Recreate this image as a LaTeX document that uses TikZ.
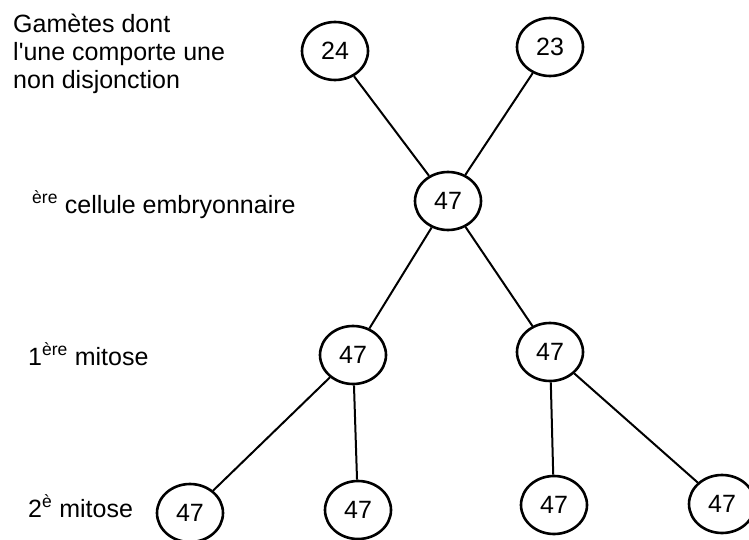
\documentclass[tikz,border=0pt]{standalone}
\usepackage{fontspec}
\setmainfont{Liberation Sans}
\usetikzlibrary{shapes.geometric}
\begin{document}
\begin{tikzpicture}[x=1pt,y=-1pt,
  cell/.style={ellipse,draw,line width=2.6pt,minimum width=66pt,minimum height=58pt,inner sep=0pt,font=\fontsize{25}{28}\selectfont},
  link/.style={line width=2pt},
  lab/.style={inner sep=0pt,font=\fontsize{25}{28}\selectfont}]
\useasboundingbox (0,0) rectangle (749,540);
% cells
\node[cell] (g24) at (335,51) {24};
\node[cell] (g23) at (550,47) {23};
\node[cell] (z)   at (448,201) {47};
\node[cell] (m1)  at (353,355) {47};
\node[cell] (m2)  at (550,352) {47};
\node[cell] (b1)  at (190,513) {47};
\node[cell] (b2)  at (358,510) {47};
\node[cell] (b3)  at (554,505) {47};
\node[cell] (b4)  at (722,504) {47};
% links
\draw[link] (g24) -- (z);
\draw[link] (g23) -- (z);
\draw[link] (z) -- (m1);
\draw[link] (z) -- (m2);
\draw[link] (m1) -- (b1);
\draw[link] (m1) -- (b2);
\draw[link] (m2) -- (b3);
\draw[link] (m2) -- (b4);
% labels
\node[lab,anchor=north west,align=left] (tg) at (13,14) {Gamètes dont\\l\textquotesingle une comporte une\\non disjonction};
\node[lab,anchor=base west] (tc) at (32,213) {\textsuperscript{ère} cellule embryonnaire};
\node[lab,anchor=base west] (t1) at (28,365) {1\textsuperscript{ère} mitose};
\node[lab,anchor=base west] (t2) at (28,517) {2\textsuperscript{è} mitose};
\end{tikzpicture}
\end{document}
